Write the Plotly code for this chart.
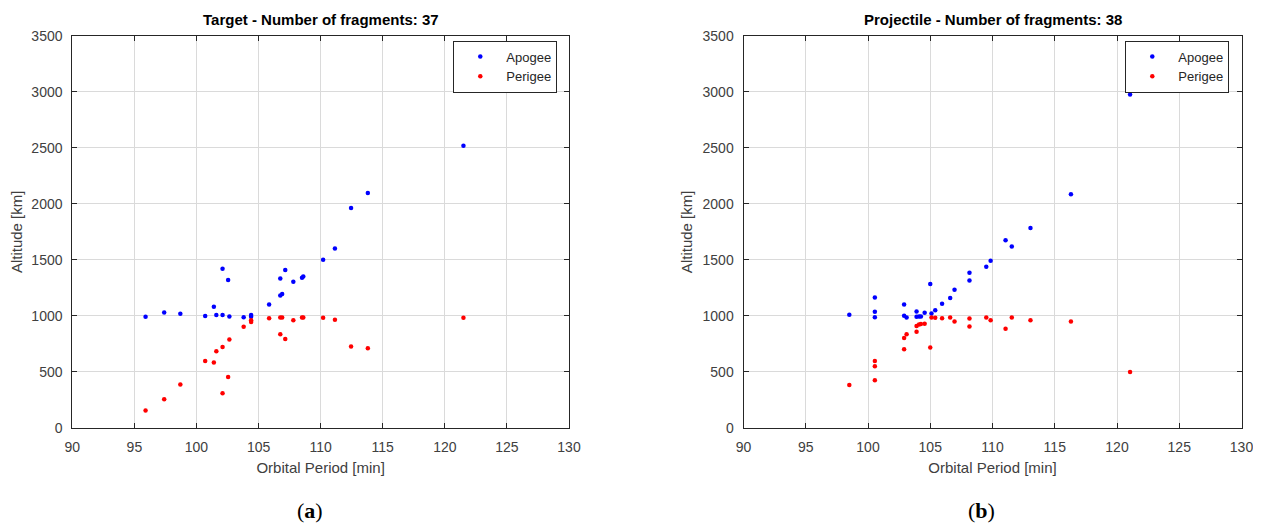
import plotly.graph_objects as go

# page is 1261x525; the browser body adds an 8px margin, so the figure is 8px smaller
OFF = 8
W, H = 1261 - OFF, 525 - OFF

# ---------------- data ----------------
tgt_period = [95.9, 97.4, 98.7, 100.7, 101.4, 101.6, 102.1, 102.1, 102.55, 102.65,
              103.8, 104.4, 104.4, 105.85, 106.75, 106.75, 106.9, 107.15, 107.8, 108.5,
              108.6, 110.2, 111.15, 112.45, 113.8, 121.5]
tgt_apogee = [991, 1030, 1018, 997, 1080, 1006, 1006, 1420, 1320, 994,
              988, 1006, 991, 1101, 1181, 1334, 1195, 1408, 1305, 1340,
              1352, 1500, 1601, 1962, 2098, 2520]
tgt_perigee = [154, 254, 387, 597, 583, 683, 722, 307, 453, 787,
               902, 944, 959, 979, 985, 834, 985, 793, 959, 985,
               985, 982, 964, 725, 710, 982]

prj_period = [98.5, 100.55, 100.55, 100.55, 102.9, 102.9, 103.1, 103.9, 103.9, 104.1,
              104.25, 104.55, 105.0, 105.1, 105.4, 105.95, 106.6, 106.95, 108.15, 108.15,
              109.5, 109.85, 111.05, 111.55, 113.05, 116.3, 121.05]
prj_apogee = [1009, 1163, 1036, 988, 1101, 1000, 985, 1038, 991, 994,
              994, 1027, 1284, 1021, 1050, 1107, 1160, 1232, 1385, 1316,
              1438, 1491, 1675, 1619, 1784, 2086, 2978]
prj_perigee = [382, 423, 550, 595, 701, 802, 834, 858, 908, 923,
               926, 929, 716, 985, 982, 979, 985, 948, 905, 975,
               985, 959, 885, 985, 959, 950, 497]

titles = ["Target - Number of fragments: 37", "Projectile - Number of fragments: 38"]
captions = ["(<b>a</b>)", "(<b>b</b>)"]
x_ticks = [90, 95, 100, 105, 110, 115, 120, 125, 130]
y_ticks = [0, 500, 1000, 1500, 2000, 2500, 3000, 3500]

# ---------------- layout helpers (page pixel -> paper fraction) ----------------
def px(x):
    return (x - OFF) / W

def py(y):
    return 1 - (y - OFF) / H

dom_x1 = [px(72.3), px(569)]
dom_x2 = [px(743.5), px(1241.5)]
dom_y = [py(427.7), py(36)]

AX = "#262626"
TXT = "#404040"
FONT = "Liberation Sans, Arial, sans-serif"

fig = go.Figure()

def add_series(period, apo, peri, xa, ya, legend):
    fig.add_trace(go.Scatter(x=period, y=apo, mode="markers", name="Apogee",
                             marker=dict(color="#0000ff", size=4.5),
                             xaxis=xa, yaxis=ya, legend=legend))
    fig.add_trace(go.Scatter(x=period, y=peri, mode="markers", name="Perigee",
                             marker=dict(color="#ff0000", size=4.5),
                             xaxis=xa, yaxis=ya, legend=legend))

add_series(tgt_period, tgt_apogee, tgt_perigee, "x", "y", "legend")
add_series(prj_period, prj_apogee, prj_perigee, "x2", "y2", "legend2")

def xaxis(dom, anchor):
    return dict(domain=dom, anchor=anchor, range=[90, 130], tickvals=x_ticks,
                automargin=False, ticklabelstandoff=6,
                showline=True, linecolor=AX, linewidth=1, mirror="allticks",
                ticks="inside", ticklen=5, tickcolor=AX,
                showgrid=True, gridcolor="#dadada", gridwidth=1, zeroline=False,
                tickfont=dict(family=FONT, size=14, color=TXT),
                title=dict(text="Orbital Period [min]", standoff=8,
                           font=dict(family=FONT, size=15, color=TXT)))

def yaxis(dom, anchor):
    return dict(domain=dom, anchor=anchor, range=[0, 3500], tickvals=y_ticks,
                automargin=False, ticklabelstandoff=6,
                showline=True, linecolor=AX, linewidth=1, mirror="allticks",
                ticks="inside", ticklen=5, tickcolor=AX,
                showgrid=True, gridcolor="#dadada", gridwidth=1, zeroline=False,
                tickfont=dict(family=FONT, size=14, color=TXT),
                title=dict(text="Altitude [km]", standoff=6,
                           font=dict(family=FONT, size=15, color=TXT)))

legend_style = dict(bgcolor="white", bordercolor=AX, borderwidth=1,
                    font=dict(family=FONT, size=13, color="#262626"),
                    xanchor="right", yanchor="top", itemwidth=42,
                    tracegroupgap=0)

annotations = []
for dx, t, c, cx in [(dom_x1, titles[0], captions[0], 310), (dom_x2, titles[1], captions[1], 981)]:
    annotations.append(dict(text="<b>%s</b>" % t, x=(dx[0] + dx[1]) / 2, y=py(19),
                            xref="paper", yref="paper", showarrow=False,
                            xanchor="center", yanchor="middle",
                            font=dict(family=FONT, size=15, color="black")))
    annotations.append(dict(text=c, x=px(cx), y=py(510), xref="paper", yref="paper",
                            showarrow=False, xanchor="center", yanchor="middle",
                            font=dict(family="Liberation Serif, serif", size=22, color="black")))

fig.update_layout(
    width=W, height=H,
    margin=dict(l=0, r=0, t=0, b=0, autoexpand=False),
    paper_bgcolor="white", plot_bgcolor="white",
    xaxis=xaxis(dom_x1, "y"), yaxis=yaxis(dom_y, "x"),
    xaxis2=xaxis(dom_x2, "y2"), yaxis2=yaxis(dom_y, "x2"),
    legend=dict(x=px(557.3), y=py(40.5), **legend_style),
    legend2=dict(x=px(1229.3), y=py(40.5), **legend_style),
    annotations=annotations,
    showlegend=True,
)

fig.write_html("out.html")
